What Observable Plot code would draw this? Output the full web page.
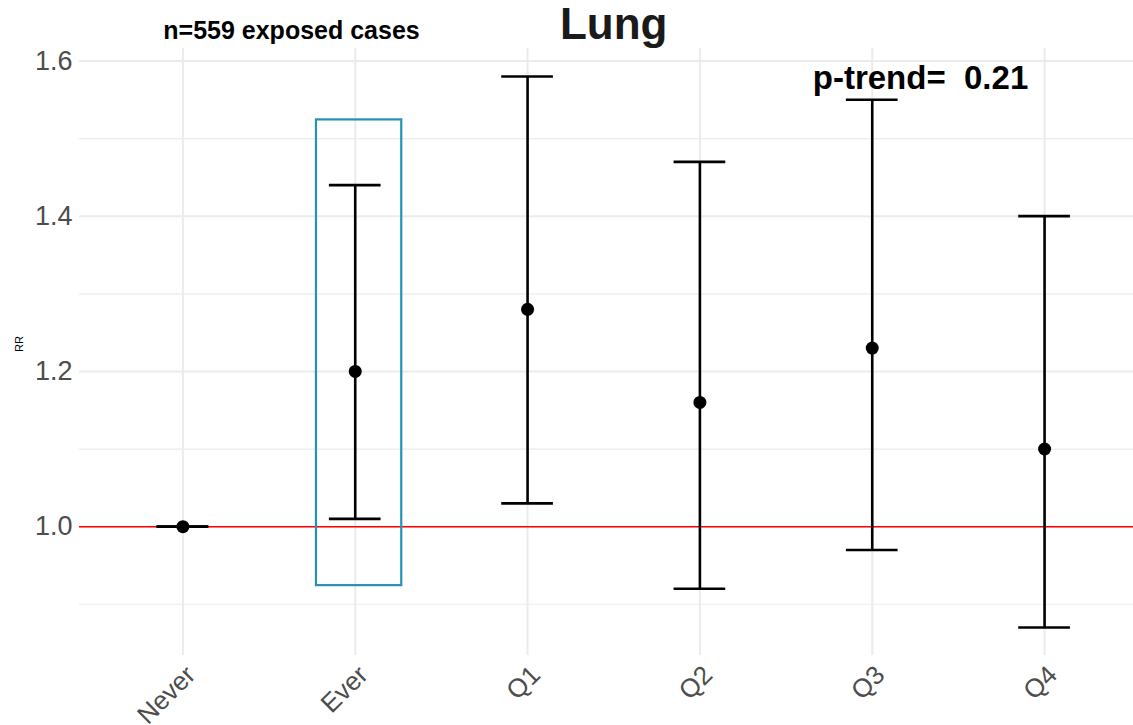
<!DOCTYPE html>
<html>
<head>
<meta charset="utf-8">
<script src="https://cdn.jsdelivr.net/npm/d3@7"></script>
<script src="https://cdn.jsdelivr.net/npm/@observablehq/plot@0.6"></script>
<style>
  html, body { margin: 0; padding: 0; background: #fff; }
  #chart svg { display: block; }
</style>
</head>
<body>
<div id="chart"></div>
<script>
// ---- data ----
const categories = ["Never", "Ever", "Q1", "Q2", "Q3", "Q4"];
const rr    = [1.00, 1.20, 1.28, 1.16, 1.23, 1.10];
const lower = [1.00, 1.01, 1.03, 0.92, 0.97, 0.87];
const upper = [1.00, 1.44, 1.58, 1.47, 1.55, 1.40];
const yMajorTicks = [1.0, 1.2, 1.4, 1.6];
const yMinorTicks = [0.9, 1.1, 1.3, 1.5];
const referenceLine = [1.0];
// highlight box around "Ever" (x in category index units)
const highlightBox = [{x1: 1.775, x2: 2.27, y1: 0.924, y2: 1.524}];
const titleText = [{label: "Lung", x: 3.5, y: 1.646}];
const caseNote = [{label: "n=559 exposed cases", x: 1.63, y: 1.638}];
const trendNote = [{label: "p-trend=  0.21", x: 5.28, y: 1.577}];

const rows = categories.map((c, i) => ({
  cat: c, idx: i + 1, rr: rr[i], lo: lower[i], hi: upper[i]
}));
const capHalf = 0.15;

const font = "Liberation Sans, Arial, Helvetica, sans-serif";

const chart = Plot.plot({
  width: 1133,
  height: 725,
  marginLeft: 79,
  marginRight: 0,
  marginTop: 48,
  marginBottom: 70,
  style: {fontFamily: font, background: "#fff", overflow: "visible"},
  x: {type: "linear", domain: [0.4, 6.516], axis: null},
  y: {type: "linear", domain: [0.834, 1.616], axis: null},
  marks: [
    // grid
    Plot.ruleY(yMinorTicks, {stroke: "#ebebeb", strokeWidth: 1.2}),
    Plot.ruleY(yMajorTicks, {stroke: "#ebebeb", strokeWidth: 2}),
    Plot.ruleX(rows, {x: "idx", stroke: "#ebebeb", strokeWidth: 2}),
    // y tick labels
    Plot.text(yMajorTicks, {
      x: 0.4, y: d => d, text: d => d.toFixed(1), textAnchor: "end", dx: -7,
      fontSize: 27, fill: "#4d4d4d"
    }),
    // x tick labels
    Plot.text(rows, {
      x: "idx", frameAnchor: "bottom", text: "cat", rotate: -45,
      textAnchor: "end", lineAnchor: "top", dx: 1, dy: 8,
      fontSize: 26, fill: "#4d4d4d"
    }),
    // y axis title
    Plot.text(["RR"], {
      frameAnchor: "left", rotate: -90, dx: -60, fontSize: 11, fill: "#000"
    }),
    // reference line
    Plot.ruleY(referenceLine, {stroke: "red", strokeWidth: 1.5}),
    // highlight box
    Plot.rect(highlightBox, {
      x1: "x1", x2: "x2", y1: "y1", y2: "y2",
      fill: "none", stroke: "#2491b5", strokeWidth: 2.2
    }),
    // error bars
    Plot.ruleX(rows, {x: "idx", y1: "lo", y2: "hi", stroke: "#000", strokeWidth: 2.6}),
    Plot.ruleY(rows, {y: "lo", x1: d => d.idx - capHalf, x2: d => d.idx + capHalf, stroke: "#000", strokeWidth: 2.6}),
    Plot.ruleY(rows, {y: "hi", x1: d => d.idx - capHalf, x2: d => d.idx + capHalf, stroke: "#000", strokeWidth: 2.6}),
    Plot.dot(rows, {x: "idx", y: "rr", r: 6.5, fill: "#000", stroke: "none"}),
    // annotations
    Plot.text(titleText, {x: "x", y: "y", text: "label", fontSize: 44, fontWeight: "bold", fill: "#1a1a1a"}),
    Plot.text(caseNote, {x: "x", y: "y", text: "label", fontSize: 25, fontWeight: "bold", fill: "#000"}),
    Plot.text(trendNote, {x: "x", y: "y", text: "label", fontSize: 33, fontWeight: "bold", fill: "#000"})
  ]
});
document.getElementById("chart").appendChild(chart);
</script>
</body>
</html>
